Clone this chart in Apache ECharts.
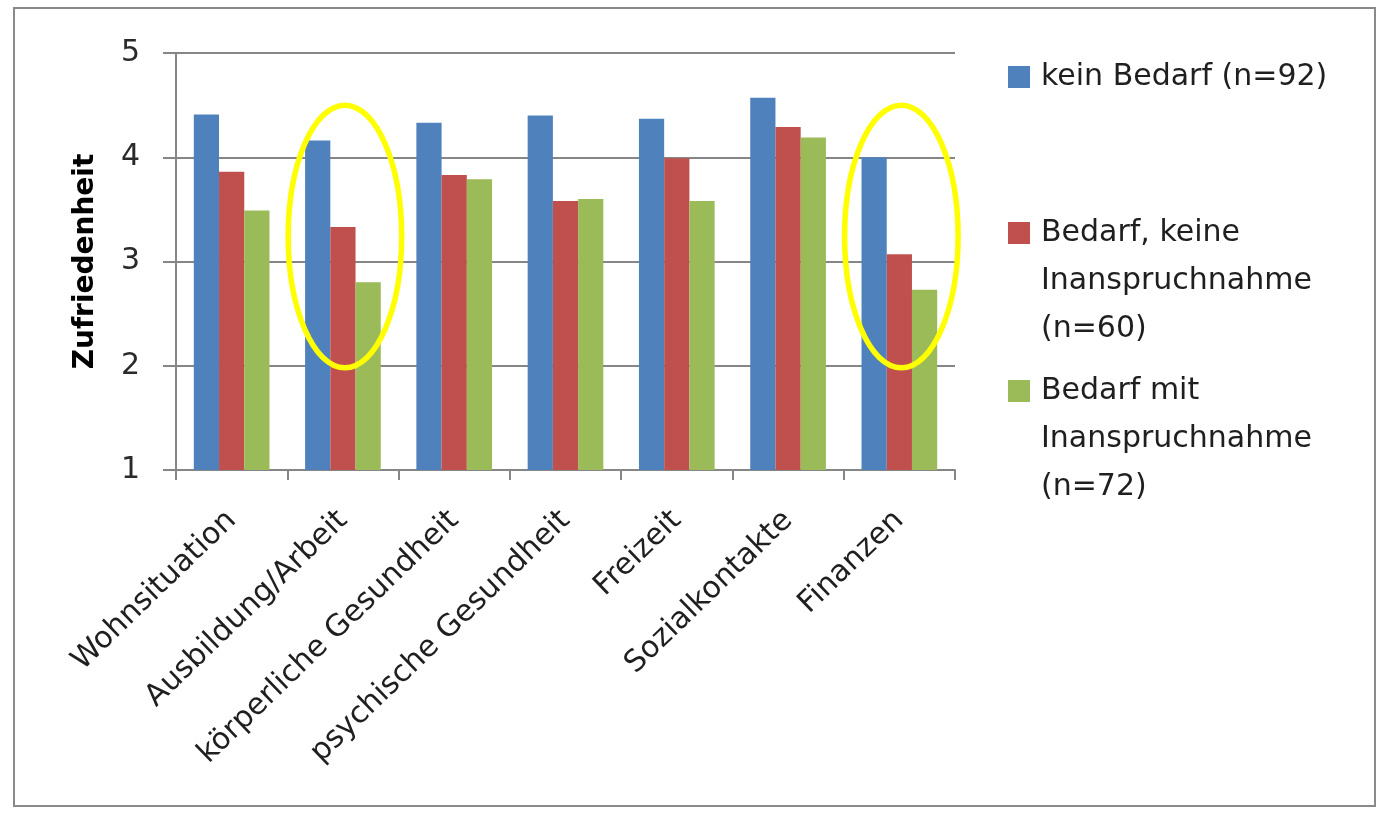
<!DOCTYPE html>
<html>
<head>
<meta charset="utf-8">
<script src="https://cdn.jsdelivr.net/npm/echarts@6/dist/echarts.min.js"></script>
<style>
html,body{margin:0;padding:0;background:#fff;}
#chart{width:1383px;height:840px;}
</style>
</head>
<body>
<div id="chart"></div>
<script>
// ---- data ----
var categories = ['Wohnsituation', 'Ausbildung/Arbeit', 'körperliche Gesundheit', 'psychische Gesundheit', 'Freizeit', 'Sozialkontakte', 'Finanzen'];
var seriesNames = ['kein Bedarf (n=92)', 'Bedarf, keine\nInanspruchnahme\n(n=60)', 'Bedarf mit\nInanspruchnahme\n(n=72)'];
var keinBedarf = [4.41, 4.16, 4.33, 4.40, 4.37, 4.57, 4.00];
var bedarfOhne = [3.86, 3.33, 3.83, 3.58, 3.99, 4.29, 3.07];
var bedarfMit = [3.49, 2.80, 3.79, 3.60, 3.58, 4.19, 2.73];
var yTicks = [1, 2, 3, 4, 5];
var yTitle = 'Zufriedenheit';
var highlighted = ['Ausbildung/Arbeit', 'Finanzen'];
var highlightRange = [1.98, 4.5];

var colors = ['#4F81BD', '#C0504D', '#9BBB59'];
var FONT = 'DejaVu Sans';
var LH = 48;

var chart = echarts.init(document.getElementById('chart'), null, {renderer: 'canvas'});

function legendFor(i, markerCenter) {
  var lines = seriesNames[i].split('\n').length;
  var extra = lines - 1; // blank lines on top so the marker sits beside the first line
  var total = lines + extra;
  return {
    orient: 'vertical',
    left: 1008,
    top: markerCenter - total * LH / 2,
    padding: 0,
    itemWidth: 22,
    itemHeight: 22,
    itemGap: 0,
    selectedMode: false,
    icon: 'rect',
    formatter: function (name) {
      return new Array(extra + 1).join('\n') + name;
    },
    textStyle: {fontFamily: FONT, fontSize: 30, color: '#1f1f1f', lineHeight: LH, padding: [0, 0, 0, 6]},
    data: [seriesNames[i]]
  };
}

var option = {
  animation: false,
  backgroundColor: '#ffffff',
  color: colors,
  grid: {left: 176, right: 428, top: 53, bottom: 370, containLabel: false},
  legend: [legendFor(0, 77), legendFor(1, 233), legendFor(2, 391)],
  xAxis: {
    type: 'category',
    data: categories,
    axisLine: {lineStyle: {color: '#868686', width: 2}},
    axisTick: {show: true, length: 10, lineStyle: {color: '#868686', width: 2}, alignWithLabel: false},
    axisLabel: {
      rotate: 44, interval: 0, margin: 46,
      fontFamily: FONT, fontSize: 30, color: '#1f1f1f'
    },
    splitLine: {show: false}
  },
  yAxis: {
    type: 'value',
    min: yTicks[0], max: yTicks[yTicks.length - 1], interval: 1,
    name: yTitle,
    nameLocation: 'middle',
    nameRotate: 90,
    nameGap: 76,
    nameTextStyle: {fontFamily: FONT, fontSize: 28, fontWeight: 'bold', color: '#000'},
    axisLine: {show: true, lineStyle: {color: '#868686', width: 2}},
    axisTick: {show: true, length: 13, lineStyle: {color: '#868686', width: 2}},
    axisLabel: {fontFamily: FONT, fontSize: 30, color: '#2a2a2a', margin: 36},
    splitLine: {lineStyle: {color: '#868686', width: 2}}
  },
  series: [
    {name: seriesNames[0], type: 'bar', data: keinBedarf, barGap: '0%', barCategoryGap: '32%'},
    {name: seriesNames[1], type: 'bar', data: bedarfOhne, barGap: '0%', barCategoryGap: '32%'},
    {name: seriesNames[2], type: 'bar', data: bedarfMit, barGap: '0%', barCategoryGap: '32%'}
  ],
  graphic: [{
    type: 'rect', silent: true,
    shape: {x: 14, y: 8, width: 1361, height: 798},
    style: {fill: 'none', stroke: '#8a8a8a', lineWidth: 2}
  }]
};
chart.setOption(option);

// highlight ellipses, positioned through the axes
var g = [];
highlighted.forEach(function (cat) {
  var idx = categories.indexOf(cat);
  var pTop = chart.convertToPixel({gridIndex: 0}, [idx, highlightRange[1]]);
  var pBot = chart.convertToPixel({gridIndex: 0}, [idx, highlightRange[0]]);
  var pNext = chart.convertToPixel({gridIndex: 0}, [idx + 1, highlightRange[0]]);
  var bw = Math.abs(pNext[0] - pTop[0]);
  g.push({
    type: 'ellipse', silent: true, z: 100,
    shape: {cx: pTop[0] + 2, cy: (pTop[1] + pBot[1]) / 2, rx: bw * 0.51, ry: Math.abs(pBot[1] - pTop[1]) / 2},
    style: {fill: 'none', stroke: '#ffff00', lineWidth: 5.5}
  });
});
chart.setOption({graphic: option.graphic.concat(g)});
</script>
</body>
</html>
